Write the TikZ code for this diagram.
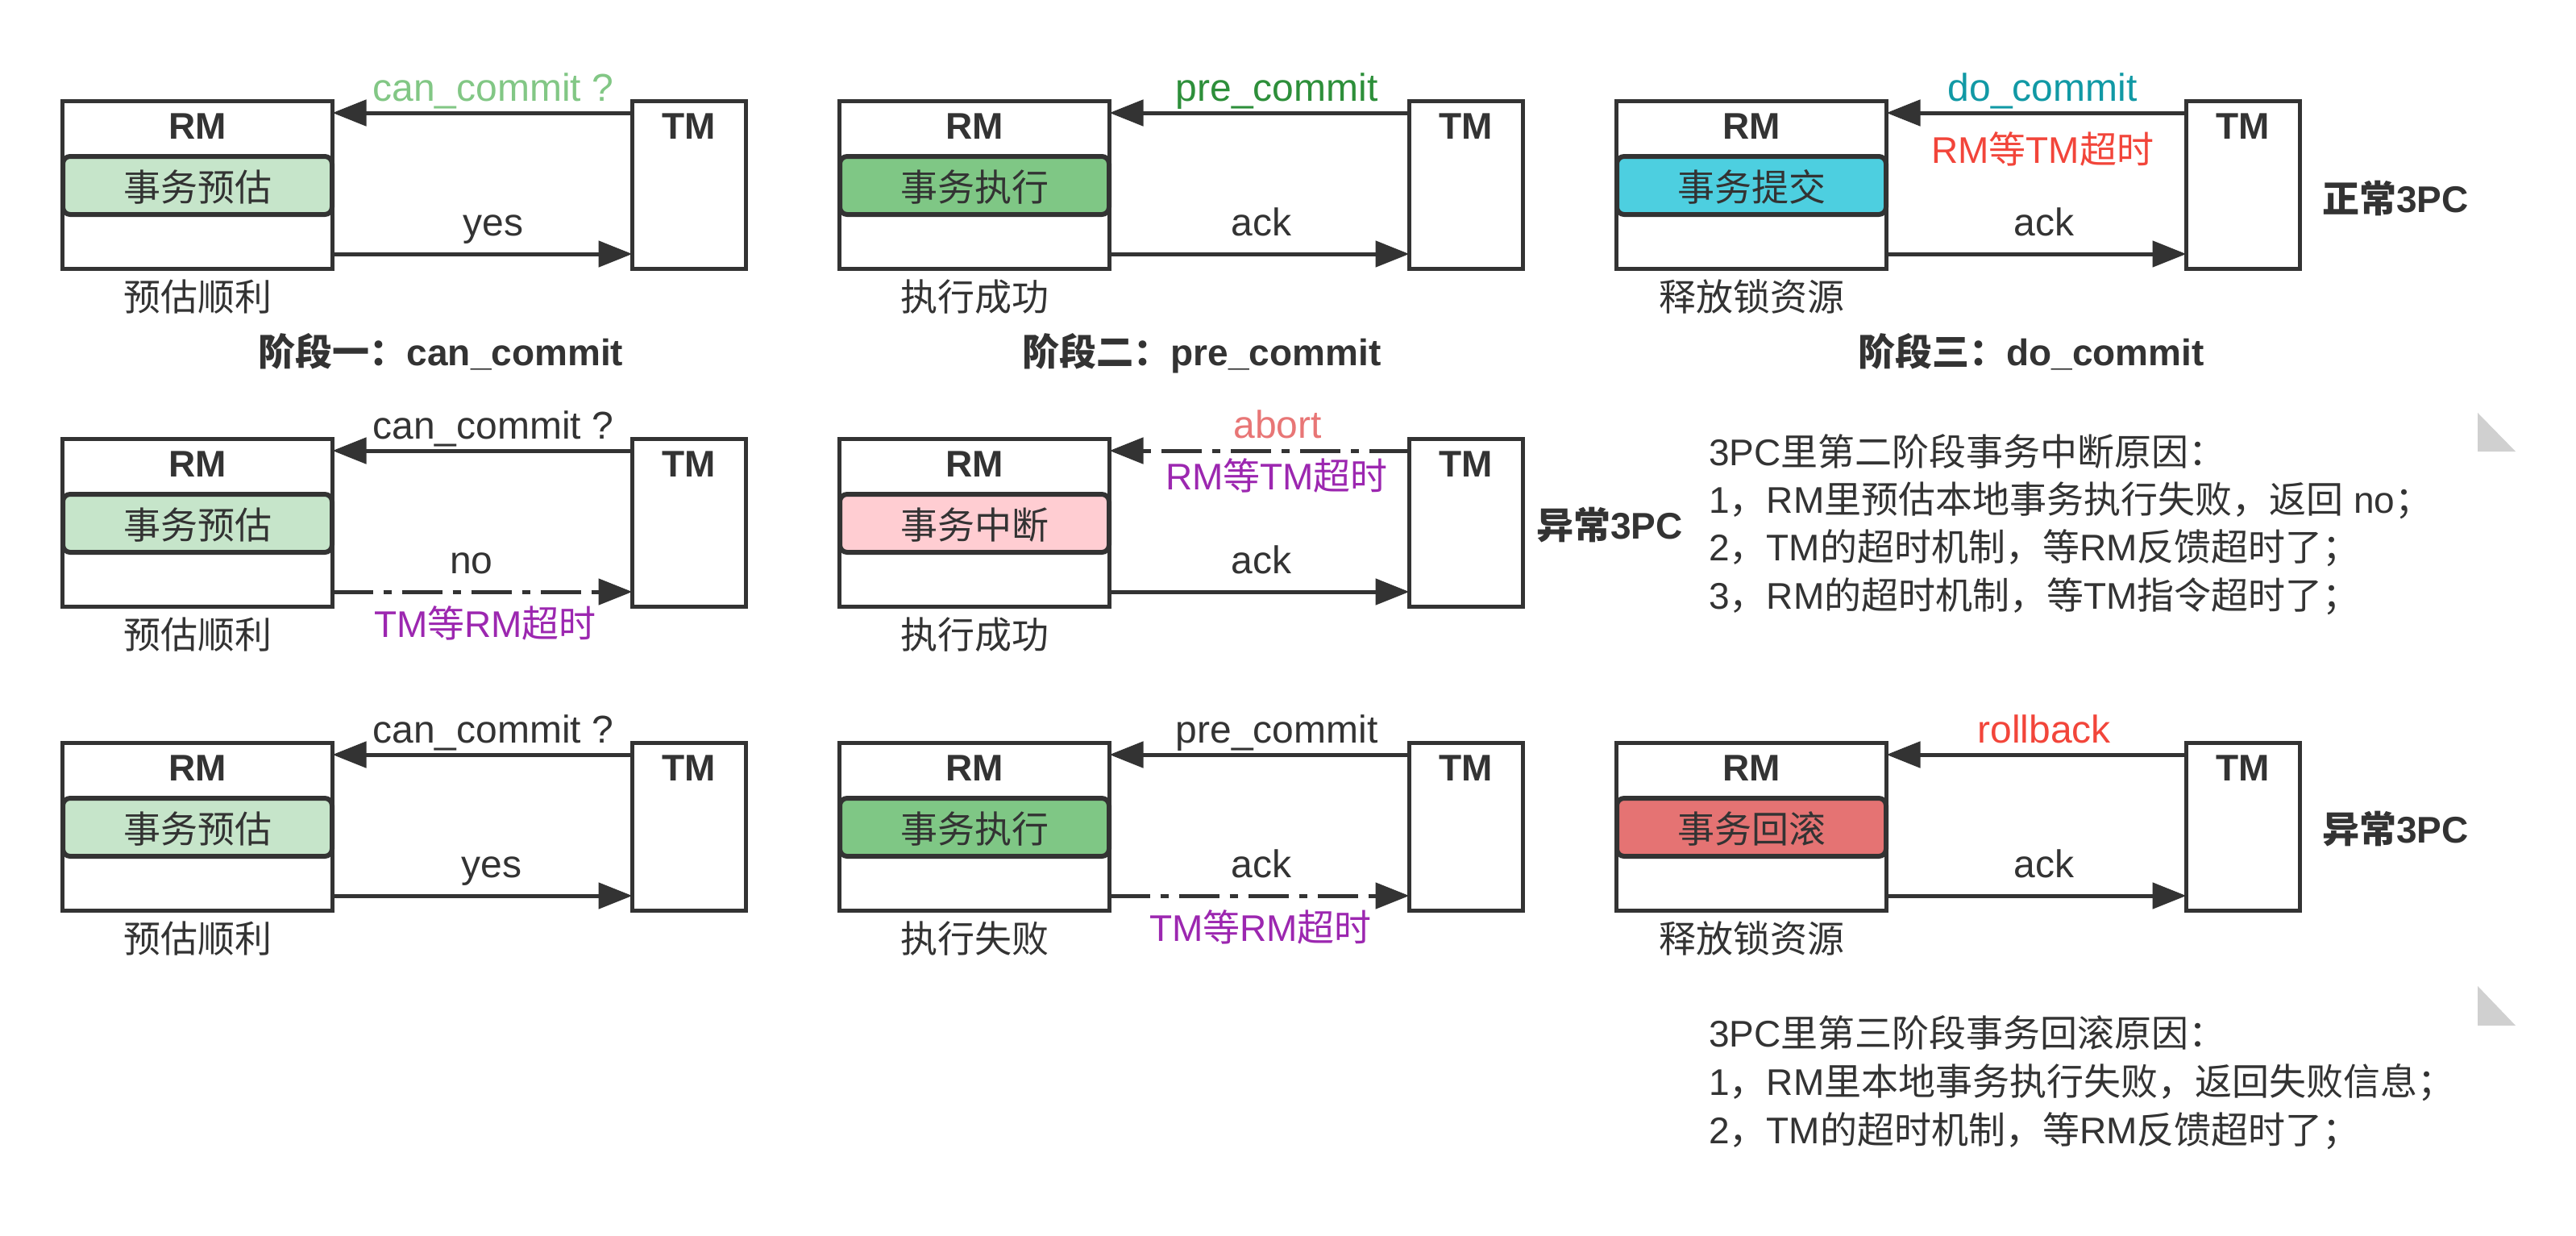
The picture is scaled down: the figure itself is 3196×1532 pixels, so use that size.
\documentclass[tikz,border=0pt]{standalone}
\usepackage{fontspec}
\setmainfont{Liberation Sans}
\newfontfamily\cjk{Noto Sans CJK SC}
\usetikzlibrary{arrows.meta,calc}
\definecolor{ink}{HTML}{333333}
\definecolor{lgreen}{HTML}{82C785}
\definecolor{dgreen}{HTML}{2D8F3A}
\definecolor{teal}{HTML}{1199A5}
\definecolor{hred}{HTML}{F2453A}
\definecolor{salmon}{HTML}{E87676}
\definecolor{purp}{HTML}{9C27B0}
\definecolor{fillA}{HTML}{C6E5CA}
\definecolor{fillB}{HTML}{7FC785}
\definecolor{fillC}{HTML}{4DCFE0}
\definecolor{fillD}{HTML}{FFCDD2}
\definecolor{fillE}{HTML}{E57373}
\definecolor{notegray}{HTML}{D0D0D0}
\newcommand\zh[1]{{\cjk #1}}
\newcommand\fsn{\fontsize{46pt}{56pt}\selectfont}
\newcommand\fsl{\fontsize{48pt}{56pt}\selectfont}
\tikzset{
 rmbox/.style={draw=ink,line width=5.5pt,fill=white,rectangle,minimum width=335pt,minimum height=208pt,inner sep=0pt,outer sep=0pt},
 tmbox/.style={rmbox,minimum width=141pt},
 inbox/.style={draw=ink,line width=6pt,rounded corners=9pt,rectangle,minimum width=334pt,minimum height=72pt,inner sep=0pt,outer sep=0pt},
 lbl/.style={anchor=base,font=\fsl,inner sep=0pt,text=ink},
 txt/.style={anchor=base,font=\fsn,inner sep=0pt,text=ink},
 btxt/.style={txt,font=\fsn\bfseries},
 arr/.style={draw=ink,line width=5pt,-{Triangle[length=42pt,width=32pt]}},
 darr/.style={arr,dash pattern=on 50pt off 13pt on 10pt off 13pt},
}
\newcommand\stage[6]{%
 \node[rmbox] (RM#3) at (#1+170,#2+106.5) {};
 \node[inbox,fill=#4] (IN#3) at (#1+170,#2+107) {};
 \node[tmbox] (TM#3) at (#1+780,#2+106.5) {};
 \node[btxt] (RMt#3) at (#1+170,#2+49) {RM};
 \node[btxt] (TMt#3) at (#1+780,#2+49) {TM};
 \node[txt] (IT#3) at (#1+170,#2+126) {\zh{#5}};
 \node[txt] (BT#3) at (#1+170,#2+262) {\zh{#6}};
}
\begin{document}
\begin{tikzpicture}[x=1pt,y=-1pt]
\useasboundingbox (0,0) rectangle (3196,1532);
\fill[white] (0,0) rectangle (3196,1532);

% ---------- row 1 ----------
\stage{75}{123}{11}{fillA}{事务预估}{预估顺利}
\stage{1039}{123}{12}{fillB}{事务执行}{执行成功}
\stage{2003}{123}{13}{fillC}{事务提交}{释放锁资源}
\foreach \i in {11,12,13}{
 \draw[arr] ($(TM\i.north west)+(0,14.5)$) -- ($(RM\i.north east)+(0,14.5)$);
 \draw[arr] ($(RM\i.south east)+(0,-18.5)$) -- ($(TM\i.south west)+(0,-18.5)$);
}
\node[lbl,text=lgreen] (L11a) at (612,125) {can\_commit ?};
\node[lbl] (L11b) at (612,292) {yes};
\node[lbl,text=dgreen] (L12a) at (1584,125) {pre\_commit};
\node[lbl] (L12b) at (1565,292) {ack};
\node[lbl,text=teal] (L13a) at (2534,125) {do\_commit};
\node[txt,text=hred] (L13c) at (2534,202) {RM\zh{等}TM\zh{超时}};
\node[lbl] (L13b) at (2536,292) {ack};
\node[btxt] (T1) at (547,453) {\zh{阶段一：}can\_commit};
\node[btxt] (T2) at (1491,453) {\zh{阶段二：}pre\_commit};
\node[btxt] (T3) at (2520,453) {\zh{阶段三：}do\_commit};
\node[btxt,anchor=base west] (S1) at (2881,263) {\zh{正常}3PC};

% ---------- row 2 ----------
\stage{75}{542}{21}{fillA}{事务预估}{预估顺利}
\stage{1039}{542}{22}{fillD}{事务中断}{执行成功}
\draw[arr] ($(TM21.north west)+(0,14.5)$) -- ($(RM21.north east)+(0,14.5)$);
\draw[darr] ($(RM21.south east)+(0,-18.5)$) -- ($(TM21.south west)+(0,-18.5)$);
\draw[darr] ($(TM22.north west)+(0,14.5)$) -- ($(RM22.north east)+(0,14.5)$);
\draw[arr] ($(RM22.south east)+(0,-18.5)$) -- ($(TM22.south west)+(0,-18.5)$);
\node[lbl] (L21a) at (612,544) {can\_commit ?};
\node[lbl] (L21b) at (585,711) {no};
\node[txt,text=purp] (L21c) at (602,790) {TM\zh{等}RM\zh{超时}};
\node[lbl,text=salmon] (L22a) at (1585,543) {abort};
\node[txt,text=purp] (L22c) at (1584,607) {RM\zh{等}TM\zh{超时}};
\node[lbl] (L22b) at (1565,711) {ack};
\node[btxt,anchor=base west] (S2) at (1906,668) {\zh{异常}3PC};
\node[txt,anchor=base west] (N2a) at (2120,577) {3PC\zh{里第二阶段事务中断原因：}};
\node[txt,anchor=base west] (N2b) at (2120,636.3) {1\zh{，}RM\zh{里预估本地事务执行失败，返回} no\zh{；}};
\node[txt,anchor=base west] (N2c) at (2120,695.6) {2\zh{，}TM\zh{的超时机制，等}RM\zh{反馈超时了；}};
\node[txt,anchor=base west] (N2d) at (2120,755) {3\zh{，}RM\zh{的超时机制，等}TM\zh{指令超时了；}};
\fill[notegray] (3074,512) -- (3074,560) -- (3121,560) -- cycle;

% ---------- row 3 ----------
\stage{75}{919}{31}{fillA}{事务预估}{预估顺利}
\stage{1039}{919}{32}{fillB}{事务执行}{执行失败}
\stage{2003}{919}{33}{fillE}{事务回滚}{释放锁资源}
\draw[arr] ($(TM31.north west)+(0,14.5)$) -- ($(RM31.north east)+(0,14.5)$);
\draw[arr] ($(RM31.south east)+(0,-18.5)$) -- ($(TM31.south west)+(0,-18.5)$);
\draw[arr] ($(TM32.north west)+(0,14.5)$) -- ($(RM32.north east)+(0,14.5)$);
\draw[darr] ($(RM32.south east)+(0,-18.5)$) -- ($(TM32.south west)+(0,-18.5)$);
\draw[arr] ($(TM33.north west)+(0,14.5)$) -- ($(RM33.north east)+(0,14.5)$);
\draw[arr] ($(RM33.south east)+(0,-18.5)$) -- ($(TM33.south west)+(0,-18.5)$);
\node[lbl] (L31a) at (612,921) {can\_commit ?};
\node[lbl] (L31b) at (610,1088) {yes};
\node[lbl] (L32a) at (1584,921) {pre\_commit};
\node[lbl] (L32b) at (1565,1088) {ack};
\node[txt,text=purp] (L32c) at (1564,1167) {TM\zh{等}RM\zh{超时}};
\node[lbl,text=hred] (L33a) at (2536,921) {rollback};
\node[lbl] (L33b) at (2536,1088) {ack};
\node[btxt,anchor=base west] (S3) at (2881,1045) {\zh{异常}3PC};
\node[txt,anchor=base west] (N3a) at (2120,1298) {3PC\zh{里第三阶段事务回滚原因：}};
\node[txt,anchor=base west] (N3b) at (2120,1358) {1\zh{，}RM\zh{里本地事务执行失败，返回失败信息；}};
\node[txt,anchor=base west] (N3c) at (2120,1418) {2\zh{，}TM\zh{的超时机制，等}RM\zh{反馈超时了；}};
\fill[notegray] (3074,1223) -- (3074,1272) -- (3121,1272) -- cycle;
\end{tikzpicture}
\end{document}
